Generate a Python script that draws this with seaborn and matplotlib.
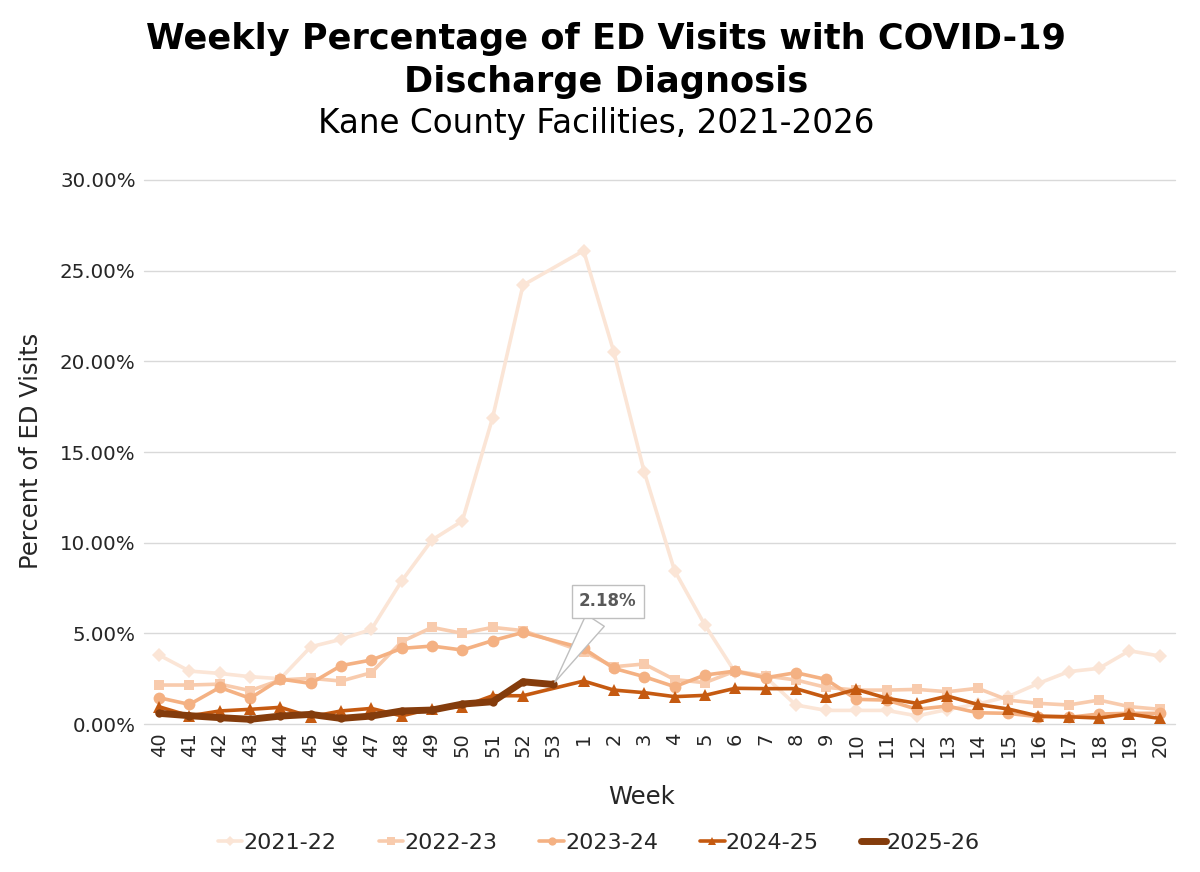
import numpy as np
import pandas as pd
import matplotlib
matplotlib.use("Agg")
import matplotlib.pyplot as plt
import seaborn as sns
from matplotlib.ticker import FuncFormatter

nan = np.nan
weeks = [40, 41, 42, 43, 44, 45, 46, 47, 48, 49, 50, 51, 52, 53,
         1, 2, 3, 4, 5, 6, 7, 8, 9, 10, 11, 12, 13, 14, 15, 16, 17, 18, 19, 20]

s2021_22 = [3.80, 2.92, 2.79, 2.61, 2.50, 4.26, 4.67, 5.22, 7.89, 10.15, 11.2, 16.9, 24.2, nan,
            26.1, 20.5, 13.9, 8.46, 5.46, 2.85, 2.6, 1.05, 0.75, 0.75, 0.75, 0.45, 0.8, 1.1,
            1.51, 2.24, 2.89, 3.07, 4.04, 3.75]
s2022_23 = [2.15, 2.15, 2.2, 1.84, 2.43, 2.52, 2.37, 2.83, 4.54, 5.33, 5.0, 5.33, 5.15, nan,
            3.99, 3.16, 3.31, 2.45, 2.28, 2.92, 2.65, 2.43, 2.02, 1.87, 1.87, 1.91, 1.78, 1.97,
            1.32, 1.14, 1.05, 1.32, 0.96, 0.81]
s2023_24 = [1.45, 1.08, 2.02, 1.42, 2.48, 2.24, 3.22, 3.53, 4.17, 4.30, 4.08, 4.60, 5.05, nan,
            4.17, 3.07, 2.61, 2.06, 2.70, 2.92, 2.55, 2.83, 2.46, 1.36, 1.32, 0.81, 0.99, 0.62,
            0.59, 0.40, 0.37, 0.55, 0.59, 0.59]
s2024_25 = [0.95, 0.45, 0.72, 0.81, 0.92, 0.40, 0.72, 0.86, 0.45, 0.85, 0.95, 1.56, 1.56, nan,
            2.37, 1.87, 1.73, 1.51, 1.58, 1.97, 1.95, 1.95, 1.47, 1.91, 1.42, 1.14, 1.54, 1.08,
            0.83, 0.44, 0.40, 0.33, 0.55, 0.31]
s2025_26 = [0.59, 0.46, 0.35, 0.26, 0.44, 0.53, 0.31, 0.44, 0.72, 0.77, 1.10, 1.23, 2.33, 2.18] + [nan] * 20

season_names = ["2021-22", "2022-23", "2023-24", "2024-25", "2025-26"]
season_values = [s2021_22, s2022_23, s2023_24, s2024_25, s2025_26]
season_colors = ["#FBE5D6", "#F8CBAD", "#F4B183", "#C55A11", "#843C0C"]
season_markers = ["D", "s", "o", "^", "o"]
season_lw = [2.6, 2.6, 2.6, 2.6, 5.0]
season_ms = [7, 7.5, 8.5, 8, 6]

annot_text = "2.18%"

rows = []
for name, vals in zip(season_names, season_values):
    for pos, v in enumerate(vals):
        rows.append({"season": name, "pos": pos, "pct": v / 100.0})
df = pd.DataFrame(rows)

sns.set_theme(style="white")
plt.rcParams['font.family'] = ['DejaVu Sans']

fig = plt.figure(figsize=(12, 8.72), dpi=100)
ax = fig.add_axes([0.12, 0.1697, 0.859, 0.6239])

for name, col, mk, lw, ms in zip(season_names, season_colors, season_markers, season_lw, season_ms):
    sub = df[df["season"] == name].dropna()
    sns.lineplot(data=sub, x="pos", y="pct", ax=ax, color=col, marker=mk,
                 markersize=ms, markeredgewidth=0, linewidth=lw, label=name,
                 sort=True, estimator=None, legend=False)

ax.set_xlim(-0.5, len(weeks) - 0.5)
ax.set_ylim(0, 0.30)
ax.set_yticks(np.arange(0, 0.301, 0.05))
ax.yaxis.set_major_formatter(FuncFormatter(lambda v, p: f"{v*100:.2f}%"))
ax.set_xticks(range(len(weeks)))
ax.set_xticklabels([str(w) for w in weeks], rotation=90, fontsize=14, color="#262626")
ax.tick_params(axis="y", labelsize=14.3, colors="#262626", pad=6, length=0)
ax.tick_params(axis="x", pad=6, length=0)
ax.grid(axis="y", color="#D9D9D9", linewidth=1)
ax.grid(axis="x", visible=False)
for gl in ax.get_ygridlines():
    gl.set_clip_on(False)
ax.set_axisbelow(True)
for s in ax.spines.values():
    s.set_visible(False)
ax.set_xlabel("")
ax.set_ylabel("")

# annotation callout
last_pos = 13
ax.annotate(annot_text, xy=(last_pos, 0.0218), xytext=(14.8, 0.0678),
            textcoords="data", ha="center", va="center",
            fontsize=12, fontweight="bold", color="#595959",
            bbox=dict(boxstyle="square,pad=0.45", fc="white", ec="#BFBFBF", lw=1),
            arrowprops=dict(arrowstyle="wedge,tail_width=1.3,shrink_factor=0.5",
                            fc="white", ec="#BFBFBF", lw=1),
            zorder=10)

fig.text(0.505, 0.955, "Weekly Percentage of ED Visits with COVID-19", ha="center", va="center",
         fontsize=25.3, fontweight="bold", color="black")
fig.text(0.505, 0.906, "Discharge Diagnosis", ha="center", va="center",
         fontsize=25.3, fontweight="bold", color="black")
fig.text(0.497, 0.858, "Kane County Facilities, 2021-2026", ha="center", va="center",
         fontsize=23.5, color="black")
fig.text(0.026, 0.483, "Percent of ED Visits", ha="center", va="center", rotation=90,
         fontsize=17.5, color="#262626")
fig.text(0.535, 0.086, "Week", ha="center", va="center", fontsize=17.5, color="#262626")

handles = ax.lines[:len(season_names)]
leg = fig.legend(handles, season_names, loc="center", bbox_to_anchor=(0.499, 0.033),
                 ncol=5, frameon=False, fontsize=16, handlelength=1.1, handletextpad=0.05,
                 columnspacing=1.9, markerscale=0.7)

fig.savefig("out.png", dpi=100)
